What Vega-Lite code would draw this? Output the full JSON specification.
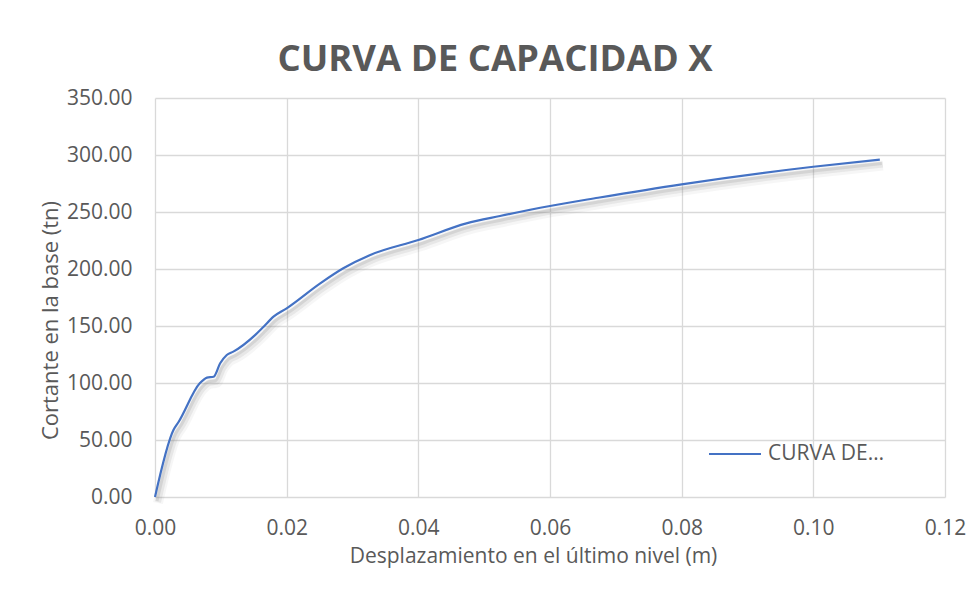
{
  "$schema": "https://vega.github.io/schema/vega-lite/v6.json",
  "width": 790,
  "height": 399,
  "autosize": {"type": "none"},
  "padding": {"left": 155, "top": 98, "right": 28, "bottom": 97},
  "background": "white",
  "config": {
    "font": "Open Sans",
    "view": {"stroke": null},
    "axis": {"gridColor": "#d9d9d9", "gridWidth": 1.3, "domain": false, "ticks": false, "labelFlush": false, "labelColor": "#595959", "titleColor": "#595959", "labelFontSize": 21, "titleFontSize": 21, "titleFontWeight": "normal", "labelFont": "Open Sans", "titleFont": "Open Sans"}
  },
  "title": {"text": "CURVA DE CAPACIDAD X", "fontSize": 36.5, "fontWeight": "bold", "color": "#595959", "font": "Open Sans", "anchor": "middle", "offset": 9, "dx": -55},
  "data": {"values": [
    {"d": 0.0, "v": 0.0, "s": "CURVA DE CAPACIDAD X"},
    {"d": 0.0028, "v": 58.8, "s": "CURVA DE CAPACIDAD X"},
    {"d": 0.0036, "v": 66.0, "s": "CURVA DE CAPACIDAD X"},
    {"d": 0.0068, "v": 99.7, "s": "CURVA DE CAPACIDAD X"},
    {"d": 0.0079, "v": 104.7, "s": "CURVA DE CAPACIDAD X"},
    {"d": 0.0089, "v": 105.5, "s": "CURVA DE CAPACIDAD X"},
    {"d": 0.0099, "v": 117.3, "s": "CURVA DE CAPACIDAD X"},
    {"d": 0.0109, "v": 124.6, "s": "CURVA DE CAPACIDAD X"},
    {"d": 0.0119, "v": 127.5, "s": "CURVA DE CAPACIDAD X"},
    {"d": 0.0152, "v": 142.0, "s": "CURVA DE CAPACIDAD X"},
    {"d": 0.0165, "v": 149.4, "s": "CURVA DE CAPACIDAD X"},
    {"d": 0.0180, "v": 158.2, "s": "CURVA DE CAPACIDAD X"},
    {"d": 0.0200, "v": 165.5, "s": "CURVA DE CAPACIDAD X"},
    {"d": 0.0251, "v": 187.4, "s": "CURVA DE CAPACIDAD X"},
    {"d": 0.0286, "v": 200.6, "s": "CURVA DE CAPACIDAD X"},
    {"d": 0.0327, "v": 212.3, "s": "CURVA DE CAPACIDAD X"},
    {"d": 0.0400, "v": 225.4, "s": "CURVA DE CAPACIDAD X"},
    {"d": 0.0473, "v": 240.0, "s": "CURVA DE CAPACIDAD X"},
    {"d": 0.0524, "v": 246.5, "s": "CURVA DE CAPACIDAD X"},
    {"d": 0.0600, "v": 255.3, "s": "CURVA DE CAPACIDAD X"},
    {"d": 0.0673, "v": 262.5, "s": "CURVA DE CAPACIDAD X"},
    {"d": 0.0800, "v": 274.3, "s": "CURVA DE CAPACIDAD X"},
    {"d": 0.1000, "v": 289.7, "s": "CURVA DE CAPACIDAD X"},
    {"d": 0.1101, "v": 296.0, "s": "CURVA DE CAPACIDAD X"}
  ]},
  "encoding": {
    "x": {"field": "d", "type": "quantitative", "scale": {"domain": [0, 0.12], "nice": false}, "axis": {"values": [0, 0.02, 0.04, 0.06, 0.08, 0.1, 0.12], "format": ".2f", "labelPadding": 20, "title": "Desplazamiento en el último nivel (m)", "titlePadding": 7, "titleX": 378}},
    "y": {"field": "v", "type": "quantitative", "scale": {"domain": [0, 350], "nice": false}, "axis": {"values": [0, 50, 100, 150, 200, 250, 300, 350], "format": ".2f", "labelPadding": 23, "title": "Cortante en la base (tn)", "titlePadding": 4, "titleFontSize": 22, "titleY": 222}}
  },
  "layer": [
    {"mark": {"type": "line", "interpolate": "monotone", "color": "#7f7f7f", "strokeWidth": 10, "opacity": 0.07, "xOffset": 3, "yOffset": 6}},
    {"mark": {"type": "line", "interpolate": "monotone", "color": "#7f7f7f", "strokeWidth": 6, "opacity": 0.12, "xOffset": 3, "yOffset": 5}},
    {"mark": {"type": "line", "interpolate": "monotone", "color": "#7f7f7f", "strokeWidth": 3, "opacity": 0.18, "xOffset": 2, "yOffset": 4}},
    {"mark": {"type": "line", "interpolate": "monotone", "strokeWidth": 2.2},
     "encoding": {"color": {"field": "s", "type": "nominal", "scale": {"range": ["#4472c4"]},
       "legend": {"orient": "none", "legendX": 553, "legendY": 329, "title": null, "symbolType": "stroke", "symbolSize": 2704, "symbolStrokeWidth": 2, "labelExpr": "'CURVA DE…'", "labelFontSize": 21, "labelColor": "#595959", "labelFont": "Open Sans", "labelOffset": 6}}}}
  ]
}
